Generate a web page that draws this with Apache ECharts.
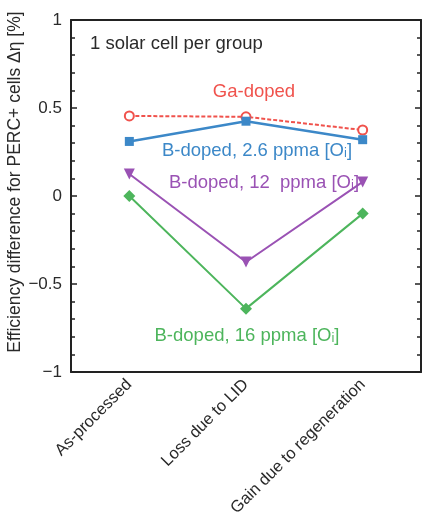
<!DOCTYPE html>
<html><head><meta charset="utf-8">
<script src="https://cdn.jsdelivr.net/npm/echarts@6/dist/echarts.min.js"></script>
<style>html,body{margin:0;padding:0;background:#fff}#c{width:425px;height:526px}</style>
</head><body><div id="c"></div>
<script>
var categories = ['As-processed', 'Loss due to LID', 'Gain due to regeneration'];
var gaDoped = [0.455, 0.45, 0.375];
var b26 = [0.31, 0.425, 0.32];
var b12 = [0.125, -0.375, 0.08];
var b16 = [0.0, -0.64, -0.10];
var yTicks = [-1, -0.5, 0, 0.5, 1];
var yTitle = 'Efficiency difference for PERC+ cells \u0394\u03b7 [%]';

var chart = echarts.init(document.getElementById('c'));
var F = 'Liberation Sans, Arial, sans-serif';
var TXT = '#2a2a2a';
var yCommon = {
  type: 'value', min: -1, max: 1, interval: 0.5,
  axisLine: {show: true, onZero: false, lineStyle: {color: '#222', width: 2}},
  axisTick: {show: true, inside: true, length: 6, lineStyle: {color: '#222', width: 1.5}},
  minorTick: {show: true, splitNumber: 5, length: 4, lineStyle: {color: '#222', width: 1.5}},
  splitLine: {show: false}
};
chart.setOption({
  animation: false,
  grid: {left: 71, right: 4, top: 20, bottom: 154, containLabel: false, outerBoundsMode: 'none'},
  xAxis: [{
    type: 'category', data: categories, boundaryGap: true,
    axisLine: {show: true, onZero: false, lineStyle: {color: '#222', width: 2}},
    axisTick: {show: false},
    axisLabel: {rotate: 45, fontSize: 16.5, color: TXT, fontFamily: F, margin: 10}
  }, {
    type: 'category', data: categories, position: 'top',
    axisLine: {show: true, onZero: false, lineStyle: {color: '#222', width: 2}},
    axisTick: {show: false}, axisLabel: {show: false}
  }],
  yAxis: [Object.assign({}, yCommon, {
    position: 'left',
    axisLabel: {fontSize: 17, color: TXT, fontFamily: F, margin: 9,
      formatter: function (v) { return yTicks.indexOf(v) >= 0 ? String(v).replace('-', '\u2212') : ''; }}
  }), Object.assign({}, yCommon, {
    position: 'right', axisLabel: {show: false}
  })],
  series: [
    {name: 'Ga-doped', type: 'line', data: gaDoped, symbol: 'emptyCircle', symbolSize: 9,
      lineStyle: {color: '#f0524c', width: 2, type: [4, 2]}, itemStyle: {color: '#f0524c', borderWidth: 1.5}},
    {name: 'B 2.6', type: 'line', data: b26, symbol: 'rect', symbolSize: 9,
      lineStyle: {color: '#3c88c8', width: 2.5}, itemStyle: {color: '#3c88c8'}},
    {name: 'B 12', type: 'line', data: b12, symbol: 'triangle', symbolRotate: 180, symbolSize: 11,
      lineStyle: {color: '#9a52b4', width: 2}, itemStyle: {color: '#9a52b4'}},
    {name: 'B 16', type: 'line', data: b16, symbol: 'diamond', symbolSize: 12,
      lineStyle: {color: '#4db55c', width: 2}, itemStyle: {color: '#4db55c'}}
  ],
  graphic: [
    {type: 'text', x: 15, y: 182, rotation: Math.PI / 2, style: {text: yTitle, fontSize: 17.5, fill: TXT, fontFamily: F, align: 'center', verticalAlign: 'middle'}},
    {type: 'text', left: 90, top: 34, style: {text: '1 solar cell per group', fontSize: 18.5, fill: TXT, fontFamily: F}},
    {type: 'text', x: 254, y: 92, style: {text: 'Ga-doped', fontSize: 18.5, fill: '#f0524c', fontFamily: F, align: 'center', verticalAlign: 'middle'}},
    {type: 'text', x: 257, y: 151, style: {text: 'B-doped, 2.6 ppma [O\u1d62]', fontSize: 18.5, fill: '#3c88c8', fontFamily: F, align: 'center', verticalAlign: 'middle'}},
    {type: 'text', x: 264, y: 183, style: {text: 'B-doped, 12  ppma [O\u1d62]', fontSize: 18.5, fill: '#9a52b4', fontFamily: F, align: 'center', verticalAlign: 'middle'}},
    {type: 'text', x: 247, y: 336, style: {text: 'B-doped, 16 ppma [O\u1d62]', fontSize: 18.5, fill: '#4db55c', fontFamily: F, align: 'center', verticalAlign: 'middle'}}
  ]
});
</script></body></html>
